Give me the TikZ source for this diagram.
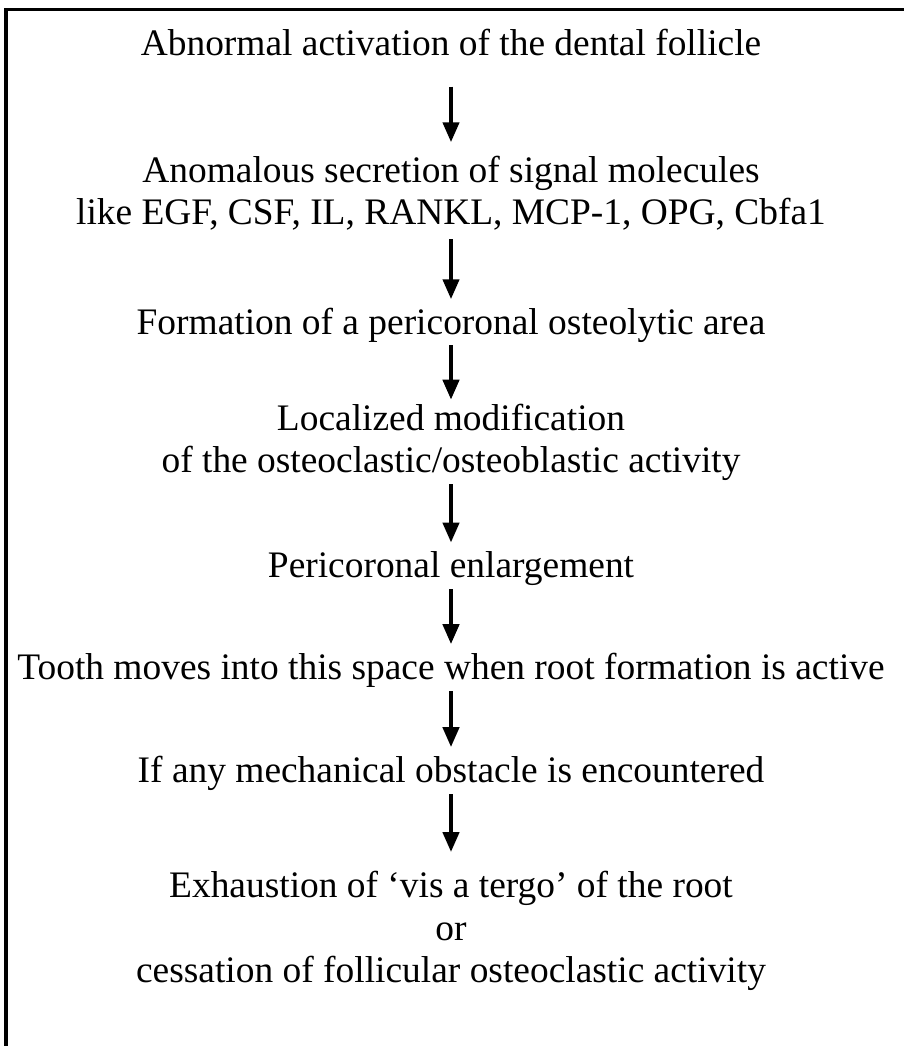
\documentclass[tikz,border=0pt]{standalone}
\usepackage{fontspec}
\setmainfont{Liberation Serif}
\usetikzlibrary{positioning,arrows.meta}

\begin{document}
\begin{tikzpicture}[x=0.02cm, y=-0.02cm]
	  \tikzstyle{stage}=[align=center, inner sep=0pt, anchor=base,
				  font=\fontsize{21.3}{24.2}\selectfont]
	  \tikzstyle{link}=[line width=2.4pt, -{Triangle[length=0.4cm,width=0.32cm]},
				  shorten <=0.06cm, shorten >=0.18cm]

		\useasboundingbox (0,0) rectangle (904,1046);
		\draw[line width=2pt] (6,1046) |- (904,9.5);

		% base of a node = baseline of its last line
		\node[stage] (follicle) at (451,55) {Abnormal activation of the dental follicle};
		\node[stage] (signal) [below=3.4cm of follicle.base, anchor=base]
			{Anomalous secretion of signal molecules\\like EGF, CSF, IL, RANKL, MCP-1, OPG, Cbfa1};
		\node[stage] (osteolytic) [below=2.2cm of signal.base, anchor=base]
			{Formation of a pericoronal osteolytic area};
		\node[stage] (activity) [below=2.76cm of osteolytic.base, anchor=base]
			{Localized modification\\of the osteoclastic/osteoblastic activity};
		\node[stage] (enlarge) [below=2.1cm of activity.base, anchor=base]
			{Pericoronal enlargement};
		\node[stage] (tooth) [below=2.04cm of enlarge.base, anchor=base]
			{Tooth moves into this space when root formation is active};
		\node[stage] (obstacle) [below=2.06cm of tooth.base, anchor=base]
			{If any mechanical obstacle is encountered};
		\node[stage] (exhaust) [below=4cm of obstacle.base, anchor=base]
			{Exhaustion of ‘vis a tergo’ of the root\\or\\cessation of follicular osteoclastic activity};

		\draw[link, shorten <=0.62cm, shorten >=0.27cm] (follicle) -- (signal);
		\draw[link, shorten <=0.16cm] (signal) -- (osteolytic);
		\draw[link, shorten <=0.04cm, shorten >=0.08cm] (osteolytic) -- (activity);
		\draw[link] (activity) -- (enlarge);
		\draw[link] (enlarge) -- (tooth);
		\draw[link] (tooth) -- (obstacle);
		\draw[link, shorten >=0.38cm] (obstacle) -- (exhaust);

\end{tikzpicture}
\end{document}
